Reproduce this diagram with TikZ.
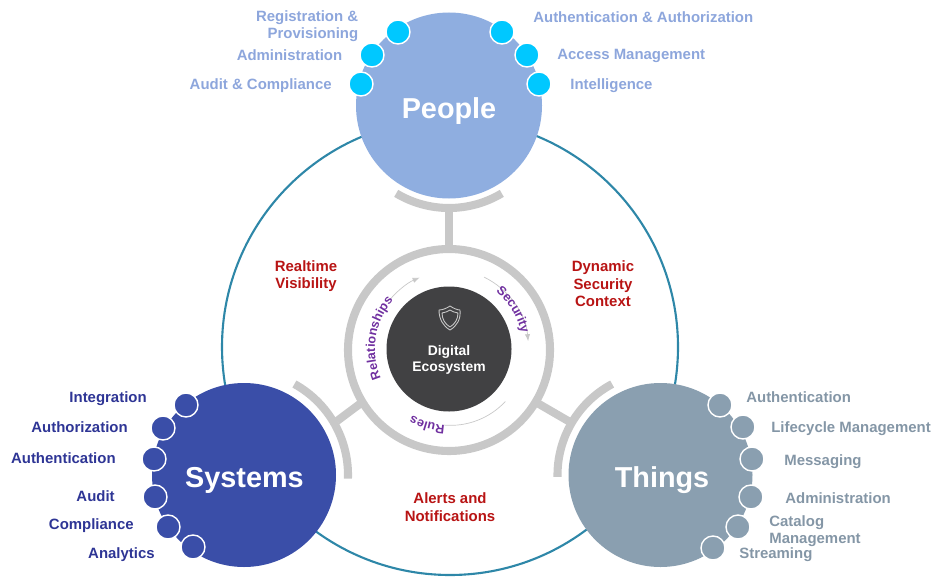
\documentclass[tikz,border=0pt]{standalone}
\usepackage{xcolor}
\usepackage{fontspec}
\setmainfont{Liberation Sans}
\usepackage{tikz}
\usetikzlibrary{arrows.meta,decorations.text}
\definecolor{peoplec}{HTML}{8FAEE0}
\definecolor{systemc}{HTML}{3A4EA8}
\definecolor{thingc}{HTML}{8A9FB0}
\definecolor{dotc}{HTML}{00C8FF}
\definecolor{peoplet}{HTML}{8DA6DC}
\definecolor{systemt}{HTML}{2E3595}
\definecolor{thingt}{HTML}{8496A6}
\definecolor{alert}{HTML}{B81414}
\definecolor{purp}{HTML}{7030A0}
\definecolor{orbitc}{HTML}{2E87A8}
\definecolor{barc}{HTML}{C8C8C8}
\definecolor{corec}{HTML}{414143}
\tikzset{
  orbit/.style={draw=orbitc, line width=1.2pt},
  hub/.style={circle, minimum size=36.8mm, inner sep=0pt, outer sep=0pt},
  hubl/.style={inner sep=0pt, text=white, font=\fontsize{16.4}{18}\selectfont\bfseries},
  dot/.style={circle, minimum size=4.8mm, inner sep=0pt, draw=white, line width=0.8pt},
  bar/.style={draw=barc, line width=4.6pt},
  flow/.style={draw=barc, line width=0.4pt},
  lab/.style={inner sep=0pt, font=\fontsize{8.5}{10}\selectfont\bfseries},
  labp/.style={lab, text=peoplet},
  labs/.style={lab, text=systemt},
  labt/.style={lab, text=thingt},
  labr/.style={lab, text=alert, align=center},
  guard/.style={draw=barc, line width=0.5pt, line join=round},
  x=0.2mm, y=0.2mm,
}
\newcommand{\arcfont}{\fontsize{7.2}{9}\selectfont\bfseries\color{purp}}

\begin{document}
\begin{tikzpicture}
  \useasboundingbox (0,0) rectangle (948,576);
  \draw[orbit] (450,229) circle (228);

  % centre
  \node[circle, minimum size=40.4mm, inner sep=0pt, outer sep=0pt, draw=barc, line width=4.6pt] (ring) at (449,226) {};
  \node[circle, minimum size=25mm, inner sep=0pt, fill=corec] (core) at (449,227) {};
  \node[inner sep=0pt, text=white, align=center, font=\fontsize{7.9}{9.2}\selectfont\bfseries] (corelab) at (449,216.5) {Digital\\Ecosystem};
  \draw[guard] (439,266) .. controls (443,266) and (447,268) .. (450,270)
    .. controls (453,268) and (457,266) .. (460,266)
    .. controls (461,257) and (457,250) .. (450,246)
    .. controls (443,250) and (439,257) .. (439,266) -- cycle;
  \draw[guard] (442,263) .. controls (445,263) and (448,265) .. (450,266)
    .. controls (452,265) and (455,263) .. (458,263)
    .. controls (458,257) and (455,252) .. (450,249)
    .. controls (445,252) and (442,257) .. (442,263) -- cycle;

  % hubs
  \node[hub, minimum size=37.2mm, fill=peoplec] (people) at (449,470.5) {};
  \node[hub, fill=systemc] (systems) at (244,101) {};
  \node[hub, fill=thingc] (things) at (660.5,101) {};
  \node[hubl] (peoplel) at (449,465) {People};
  \node[hubl] (systemsl) at (244.5,96) {Systems};
  \node[hubl] (thingsl) at (662,96) {Things};

  % brackets
  \draw[bar] ([shift={(239:102.5)}]people.center) arc (239:301:102.5);
  \draw[bar] ([shift={(61:104)}]systems.center) arc (61:-2:104);
  \draw[bar] ([shift={(118:103)}]things.center) arc (118:181:103);
  \coordinate (pstem) at (449,369);
  \coordinate (sstem) at (337,155);
  \coordinate (tstem) at (570,154);
  \draw[bar] (ring.north) -- (pstem);
  \draw[bar] (ring.211) -- (sstem);
  \draw[bar] (ring.329) -- (tstem);

  % ring words
  \draw[flow, -{Latex[length=4pt,width=3pt]}] ([shift={(140:77)}]core.center) arc (140:113:79);
  \draw[flow, -{Latex[length=4pt,width=3pt]}] ([shift={(64:80)}]core.center) arc (64:5:79);
  \draw[flow] ([shift={(-43:77)}]core.center) arc (-43:-95:75);
  \path[decorate, decoration={text along path, text align=center, text={|\arcfont|Relationships}}]
    ([shift={(204:74)}]core.center) arc (204:138:74);
  \path[decorate, decoration={text along path, text align=center, text={|\arcfont|Security}}]
    ([shift={(50:74)}]core.center) arc (50:13:74);
  \path[decorate, decoration={text along path, text align=center, text={|\arcfont|Rules}}]
    ([shift={(270:76)}]core.center) arc (270:238:76);

  % people
  \node[dot, fill=dotc] (p1) at (398,544) {};
  \node[dot, fill=dotc] (p2) at (372,521) {};
  \node[dot, fill=dotc] (p3) at (361,492) {};
  \node[dot, fill=dotc] (p4) at (502,544) {};
  \node[dot, fill=dotc] (p5) at (527,521) {};
  \node[dot, fill=dotc] (p6) at (539,492) {};
  \node[labp, anchor=east, align=right] (pl1) at (358.5,550) {Registration \&\\Provisioning};
  \node[labp, anchor=east] (pl2) at (342.5,521) {Administration};
  \node[labp, anchor=east] (pl3) at (332,490) {Audit \& Compliance};
  \node[labp, anchor=west] (pl4) at (533,559) {Authentication \& Authorization};
  \node[labp, anchor=west] (pl5) at (557,520) {Access Management};
  \node[labp, anchor=west] (pl6) at (570,490) {Intelligence};

  % systems
  \node[dot, fill=systemc] (s1) at (186,171) {};
  \node[dot, fill=systemc] (s2) at (163,148) {};
  \node[dot, fill=systemc] (s3) at (154,117) {};
  \node[dot, fill=systemc] (s4) at (155,79) {};
  \node[dot, fill=systemc] (s5) at (168,49) {};
  \node[dot, fill=systemc] (s6) at (193,29) {};
  \node[labs, anchor=east] (sl1) at (147,177) {Integration};
  \node[labs, anchor=east] (sl2) at (128,149) {Authorization};
  \node[labs, anchor=east] (sl3) at (116,118) {Authentication};
  \node[labs, anchor=east] (sl4) at (115,80) {Audit};
  \node[labs, anchor=east] (sl5) at (134,50) {Compliance};
  \node[labs, anchor=east] (sl6) at (155,21) {Analytics};

  % things
  \node[dot, fill=thingc] (t1) at (720,171) {};
  \node[dot, fill=thingc] (t2) at (743,149) {};
  \node[dot, fill=thingc] (t3) at (752,117) {};
  \node[dot, fill=thingc] (t4) at (751,79) {};
  \node[dot, fill=thingc] (t5) at (738,49) {};
  \node[dot, fill=thingc] (t6) at (713,28) {};
  \node[labt, anchor=west] (tl1) at (746,179) {Authentication};
  \node[labt, anchor=west] (tl2) at (771,147) {Lifecycle Management};
  \node[labt, anchor=west] (tl3) at (784,114) {Messaging};
  \node[labt, anchor=west] (tl4) at (785,78) {Administration};
  \node[labt, anchor=west, align=left] (tl5) at (769,45) {Catalog\\Management};
  \node[labt, anchor=west] (tl6) at (739,21) {Streaming};

  % alerts
  \node[labr] (r1) at (306,300) {Realtime\\Visibility};
  \node[labr] (r2) at (603,292) {Dynamic\\Security\\Context};
  \node[labr] (r3) at (450,69) {Alerts and\\Notifications};
\end{tikzpicture}
\end{document}
